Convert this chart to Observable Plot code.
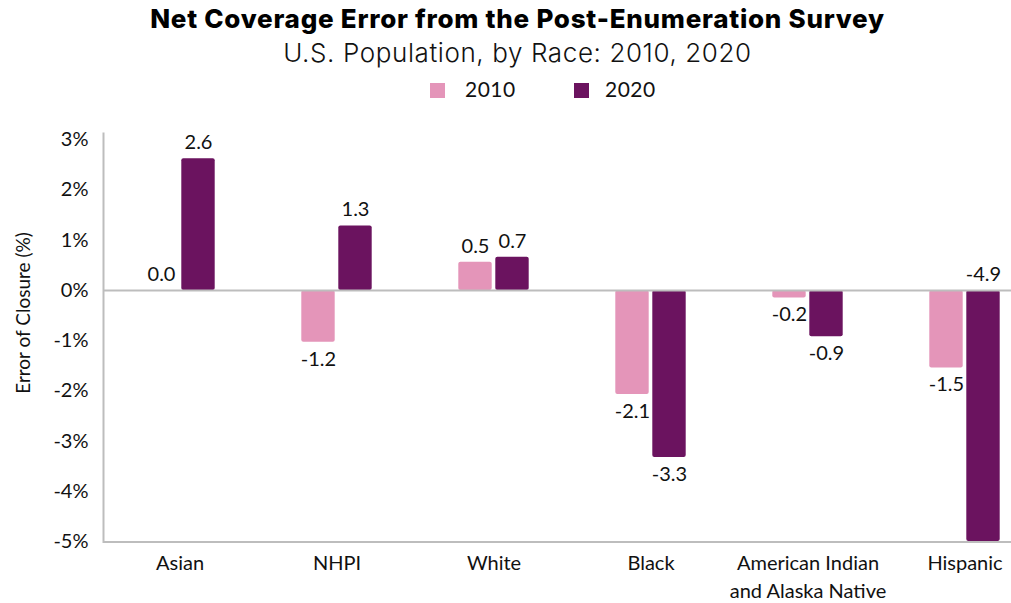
<!DOCTYPE html>
<html><head><meta charset="utf-8">
<script src="https://cdn.jsdelivr.net/npm/d3@7"></script>
<script src="https://cdn.jsdelivr.net/npm/@observablehq/plot@0.6"></script>
<style>
body{margin:0;background:#fff;overflow:hidden;}
#wrap{position:relative;width:1011px;height:603px;font-family:Lato,sans-serif;color:#111;}
#head{position:relative;height:108px;}
#title{position:absolute;top:3px;left:12px;width:1011px;text-align:center;font:800 26px Inter,sans-serif;letter-spacing:0.75px;color:#000;white-space:nowrap;}
#subtitle{position:absolute;top:37px;left:12px;width:1011px;text-align:center;font:300 26px Inter,sans-serif;letter-spacing:0.6px;color:#111;white-space:nowrap;}
.sw{position:absolute;top:83px;width:15px;height:15px;}
.lt{position:absolute;top:76px;font:400 21px Lato,sans-serif;letter-spacing:0.5px;color:#111;}
#ylab{position:absolute;left:22px;top:313px;transform:translate(-50%,-50%) rotate(-90deg);font:400 19px Lato,sans-serif;white-space:nowrap;color:#111;}
#chart{position:absolute;top:108px;left:0;}
</style></head>
<body><div id="wrap">
<div id="head">
<div id="title">Net Coverage Error from the Post-Enumeration Survey</div>
<div id="subtitle">U.S. Population, by Race: 2010, 2020</div>
<div id="legend"></div>
</div>
<div id="chart"></div>
<div id="ylab">Error of Closure (%)</div>
</div>
<script>
const categories = ["Asian","NHPI","White","Black","American Indian\nand Alaska Native","Hispanic"];
const years = ["2010","2020"];
const values2010 = [0.0, -1.03, 0.56, -2.07, -0.15, -1.54];
const values2020 = [2.62, 1.28, 0.66, -3.32, -0.92, -4.99];
const labels2010 = ["0.0","-1.2","0.5","-2.1","-0.2","-1.5"];
const labels2020 = ["2.6","1.3","0.7","-3.3","-0.9","-4.9"];
const yTicks = [3,2,1,0,-1,-2,-3,-4,-5];
const colors = ["#e495b9","#6b135f"];

const rows = [];
categories.forEach((c,i)=>{
  rows.push({cat:c, year:years[0], value:values2010[i], label:labels2010[i]});
  rows.push({cat:c, year:years[1], value:values2020[i], label:labels2020[i]});
});
// label anchor: at bar end, or above zero when bar runs past the axis
rows.forEach(r=>{ r.above = r.value >= 0 || r.value < -4.5; r.ly = r.value >= 0 ? r.value : (r.value < -4.5 ? 0 : r.value); });

// legend
const lg = document.getElementById("legend");
[[430,465],[574,605]].forEach(([sx,tx],k)=>{
  const s=document.createElement("div"); s.className="sw"; s.style.left=sx+"px"; s.style.background=colors[k]; lg.appendChild(s);
  const t=document.createElement("div"); t.className="lt"; t.style.left=tx+"px"; t.textContent=years[k]; lg.appendChild(t);
});

const S = 157.6, start = 99.2;
const font = "Lato, sans-serif";
const plot = Plot.plot({
  width: 1011, height: 495,
  marginLeft: 103, marginRight: 0, marginTop: 25, marginBottom: 61.5,
  style: {fontFamily: font, fontSize: "20px", color: "#111", background: "#fff", maxWidth: "none", overflow: "visible"},
  x: {domain: categories, range: [start, start + S*categories.length], paddingInner: 0, paddingOuter: 0, label: null},
  y: {domain: [-5, 3.12], label: null},
  marks: [
    Plot.barY(rows.filter(r=>r.year===years[0]), {x:"cat", y:"value", fill: colors[0], insetLeft: S/2-35.5, insetRight: S/2+1.5, rx: 2}),
    Plot.barY(rows.filter(r=>r.year===years[1]), {x:"cat", y:"value", fill: colors[1], insetLeft: S/2+1.5, insetRight: S/2-35.5, rx: 2}),
    Plot.ruleY([0], {stroke:"#bdbdbd", strokeWidth: 2}),
    Plot.ruleY([-5], {stroke:"#bdbdbd", strokeWidth: 2}),
    Plot.frame({anchor:"left", stroke:"#bdbdbd", strokeWidth: 2}),
    Plot.text(rows.filter(r=>r.year===years[0] && r.above), {x:"cat", y:"ly", text:"label", dx:-18.5, dy:-16, fontSize:20, fill:"#111"}),
    Plot.text(rows.filter(r=>r.year===years[0] && !r.above), {x:"cat", y:"ly", text:"label", dx:-18.5, dy:17, fontSize:20, fill:"#111"}),
    Plot.text(rows.filter(r=>r.year===years[1] && r.above), {x:"cat", y:"ly", text:"label", dx:18.5, dy:-16, fontSize:20, fill:"#111"}),
    Plot.text(rows.filter(r=>r.year===years[1] && !r.above), {x:"cat", y:"ly", text:"label", dx:18.5, dy:17, fontSize:20, fill:"#111"}),
    Plot.axisY({ticks: yTicks, tickFormat: d=>d+"%", tickSize: 0, tickPadding: 15, fontSize: 20, label: null}),
    Plot.axisX({tickSize: 0, tickPadding: 8, fontSize: 20, label: null, lineHeight: 1.4})
  ]
});
document.getElementById("chart").appendChild(plot);
</script>
</body></html>
